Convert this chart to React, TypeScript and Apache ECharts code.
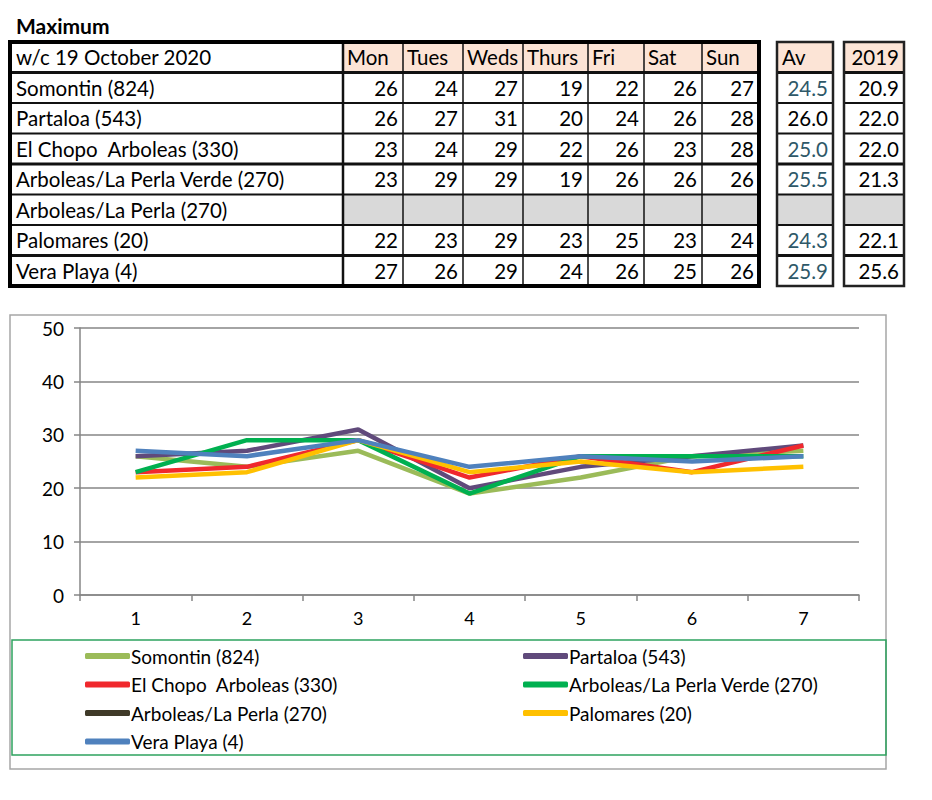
import React, { useEffect, useRef } from "react";
import * as echarts from "echarts";

// ---- data ----
const title = "Maximum";
const weekLabel = "w/c 19 October 2020";
const days = ["Mon", "Tues", "Weds", "Thurs", "Fri", "Sat", "Sun"];
const xLabels = ["1", "2", "3", "4", "5", "6", "7"];
const stations = [
  "Somontin (824)",
  "Partaloa (543)",
  "El Chopo  Arboleas (330)",
  "Arboleas/La Perla Verde (270)",
  "Arboleas/La Perla (270)",
  "Palomares (20)",
  "Vera Playa (4)",
];
const somontin = [26, 24, 27, 19, 22, 26, 27];
const partaloa = [26, 27, 31, 20, 24, 26, 28];
const elChopo = [23, 24, 29, 22, 26, 23, 28];
const laPerlaVerde = [23, 29, 29, 19, 26, 26, 26];
const laPerla: (number | null)[] = [null, null, null, null, null, null, null];
const palomares = [22, 23, 29, 23, 25, 23, 24];
const veraPlaya = [27, 26, 29, 24, 26, 25, 26];
const averages = ["24.5", "26.0", "25.0", "25.5", "", "24.3", "25.9"];
const values2019 = ["20.9", "22.0", "22.0", "21.3", "", "22.1", "25.6"];
const avHeader = "Av";
const yearHeader = "2019";
const yTicks = { min: 0, max: 50, interval: 10 };

const seriesValues = [somontin, partaloa, elChopo, laPerlaVerde, laPerla, palomares, veraPlaya];
const seriesColors = ["#9BBB59", "#604A7B", "#F0282D", "#00B050", "#3F3A28", "#FFC000", "#4F81BD"];

const FONT = "Lato, 'Noto Sans', sans-serif";

function buildTable(): any[] {
  const els: any[] = [];
  const left = 10;
  const top = 42;
  const rowH = 30.5;
  const colEdges = [343, 403, 463, 523, 588, 644, 702, 759];
  const avX = [777, 833];
  const yrX = [844, 904];
  const nRows = stations.length + 1;
  const bottom = top + nRows * rowH;
  const headerFill = "#FCE4D6";
  const grayFill = "#D9D9D9";
  const fs = 20.5;

  // title
  els.push({
    type: "text",
    x: 16,
    y: 25,
    style: { text: title, font: `bold 21px ${FONT}`, fill: "#000", align: "left", verticalAlign: "middle", textAlign: "left", textVerticalAlign: "middle" },
  });

  // header fills
  for (let c = 0; c < days.length; c++) {
    els.push({ type: "rect", shape: { x: colEdges[c], y: top, width: colEdges[c + 1] - colEdges[c], height: rowH }, style: { fill: headerFill } });
  }
  els.push({ type: "rect", shape: { x: avX[0], y: top, width: avX[1] - avX[0], height: rowH }, style: { fill: headerFill } });
  els.push({ type: "rect", shape: { x: yrX[0], y: top, width: yrX[1] - yrX[0], height: rowH }, style: { fill: headerFill } });

  // gray fills for rows without data
  stations.forEach((_, r) => {
    const vals = seriesValues[r];
    if (vals.every((v) => v === null)) {
      const y = top + (r + 1) * rowH;
      els.push({ type: "rect", shape: { x: colEdges[0], y, width: colEdges[7] - colEdges[0], height: rowH }, style: { fill: grayFill } });
      els.push({ type: "rect", shape: { x: avX[0], y, width: avX[1] - avX[0], height: rowH }, style: { fill: grayFill } });
      els.push({ type: "rect", shape: { x: yrX[0], y, width: yrX[1] - yrX[0], height: rowH }, style: { fill: grayFill } });
    }
  });

  const line = (x1: number, y1: number, x2: number, y2: number, w: number) =>
    els.push({ type: "line", shape: { x1, y1, x2, y2 }, style: { stroke: "#111", lineWidth: w } });

  // horizontal lines
  for (let r = 1; r < nRows; r++) {
    const y = top + r * rowH;
    const w = r === 1 || r === 4 || r === 7 ? 3 : 2;
    line(left, y, colEdges[7], y, w);
    line(avX[0], y, avX[1], y, w);
    line(yrX[0], y, yrX[1], y, w);
  }
  // vertical lines
  colEdges.slice(0, 7).forEach((x, i) => line(x, top, x, bottom, i === 0 ? 2.5 : 1.5));
  // outer borders
  els.push({ type: "rect", shape: { x: left, y: top, width: colEdges[7] - left, height: bottom - top }, style: { fill: "none", stroke: "#000", lineWidth: 4 } });
  els.push({ type: "rect", shape: { x: avX[0], y: top, width: avX[1] - avX[0], height: bottom - top }, style: { fill: "none", stroke: "#222", lineWidth: 2.5 } });
  els.push({ type: "rect", shape: { x: yrX[0], y: top, width: yrX[1] - yrX[0], height: bottom - top }, style: { fill: "none", stroke: "#222", lineWidth: 2.5 } });

  const txt = (text: string, x: number, y: number, align: string, fill = "#000") =>
    els.push({
      type: "text",
      x,
      y,
      style: { text, font: `${fs}px ${FONT}`, fill, align, verticalAlign: "middle", textAlign: align, textVerticalAlign: "middle" },
    });

  // header texts
  const hy = top + rowH / 2;
  txt(weekLabel, 16, hy, "left");
  days.forEach((d, c) => txt(d, colEdges[c] + 4, hy, "left"));
  txt(avHeader, avX[0] + 5, hy, "left");
  txt(yearHeader, yrX[1] - 5, hy, "right");

  // rows
  stations.forEach((s, r) => {
    const y = top + (r + 1) * rowH + rowH / 2;
    txt(s, 16, y, "left");
    seriesValues[r].forEach((v, c) => {
      if (v !== null) txt(String(v), colEdges[c + 1] - 5, y, "right");
    });
    if (averages[r]) txt(averages[r], avX[1] - 5, y, "right", r === 1 ? "#000" : "#2E5868");
    if (values2019[r]) txt(values2019[r], yrX[1] - 5, y, "right");
  });
  return els;
}

export default function App() {
  const ref = useRef<HTMLDivElement>(null);
  useEffect(() => {
    document.body.style.margin = "0";
    const chart = echarts.init(ref.current!, undefined, { renderer: "svg" });
    const leftCol = [0, 2, 4, 6].map((i) => stations[i]);
    const rightCol = [1, 3, 5].map((i) => stations[i]);
    const legendCommon = {
      orient: "vertical",
      icon: "roundRect",
      itemWidth: 45,
      itemHeight: 6,
      itemGap: 0.5,
      top: 637,
      textStyle: { fontSize: 19, fontFamily: FONT, color: "#000", lineHeight: 28, padding: [0, 0, 0, -4] },
      selectedMode: false,
    };
    chart.setOption({
      animation: false,
      backgroundColor: "#fff",
      grid: { left: 80, right: 73, top: 328, bottom: 205 },
      xAxis: {
        type: "category",
        data: xLabels,
        boundaryGap: true,
        axisLine: { lineStyle: { color: "#868686", width: 1.5 } },
        axisTick: { show: true, length: 6, interval: 0, lineStyle: { color: "#868686", width: 1.5 } },
        axisLabel: { fontSize: 18, fontFamily: FONT, color: "#000", margin: 14 },
      },
      yAxis: {
        type: "value",
        min: yTicks.min,
        max: yTicks.max,
        interval: yTicks.interval,
        axisLine: { show: true, lineStyle: { color: "#868686", width: 1.5 } },
        axisTick: { show: true, length: 6, lineStyle: { color: "#868686", width: 1.5 } },
        splitLine: { lineStyle: { color: "#868686", width: 1.5 } },
        axisLabel: { fontSize: 19, fontFamily: FONT, color: "#000", margin: 16 },
      },
      legend: [
        { ...legendCommon, left: 80, data: leftCol },
        { ...legendCommon, left: 518, data: rightCol },
      ],
      series: stations.map((name, i) => ({
        name,
        type: "line",
        data: seriesValues[i],
        color: seriesColors[i],
        showSymbol: false,
        symbol: "none",
        lineStyle: { width: 4.5, color: seriesColors[i] },
        z: 2 + i,
      })),
      graphic: [
        { type: "rect", z: -10, shape: { x: 10, y: 315, width: 876, height: 454 }, style: { fill: "none", stroke: "#A6A6A6", lineWidth: 1.5 } },
        { type: "rect", z: -9, shape: { x: 12, y: 640, width: 874, height: 115 }, style: { fill: "none", stroke: "#2EA35F", lineWidth: 1.5 } },
        ...buildTable(),
      ],
    });
    return () => chart.dispose();
  }, []);
  return <div ref={ref} style={{ width: 932, height: 800 }} />;
}
